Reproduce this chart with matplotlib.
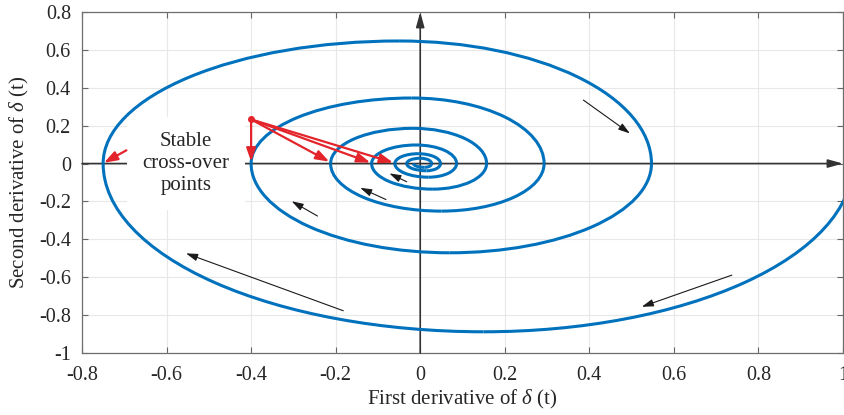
#!/usr/bin/env python

import matplotlib
matplotlib.use('Agg')
import matplotlib.pyplot as plt
from matplotlib.patches import Arc

# x-axis crossings of the trajectory, in the order they are visited
X_CROSS = [1.023, -0.75, 0.547, -0.40, 0.293, -0.212, 0.157, -0.115,
           0.086, -0.060, 0.048, -0.032, 0.027, -0.016]
# turning points (lowest / highest) between consecutive crossings
PEAK_X = [0.15, -0.05, 0.07, -0.02, 0.05, -0.017, 0.03, -0.01,
          0.02, -0.005, 0.015, 0.0, 0.01]
PEAK_Y = [-0.888, 0.647, -0.471, 0.346, -0.251, 0.186, -0.135, 0.098,
          -0.072, 0.052, -0.038, 0.028, -0.02]

# red annotation: common source point and the stable cross-over points
SRC = (-0.40, 0.233)
STABLE_X = [-0.40, -0.215, -0.118, -0.064]
STABLE_Y = [0.01, 0.01, 0.005, 0.005]
LEFT_ARROW = [(-0.695, 0.07), (-0.748, 0.004)]

# direction-of-motion arrows (tail, head)
FLOW_ARROWS = [
    ((0.386, 0.335), (0.496, 0.159)),
    ((0.737, -0.589), (0.524, -0.756)),
    ((-0.182, -0.777), (-0.554, -0.474)),
    ((-0.243, -0.277), (-0.304, -0.199)),
    ((-0.081, -0.190), (-0.142, -0.128)),
    ((-0.032, -0.096), (-0.073, -0.052)),
]

XTICKS = [-0.8, -0.6, -0.4, -0.2, 0, 0.2, 0.4, 0.6, 0.8, 1]
YTICKS = [-1, -0.8, -0.6, -0.4, -0.2, 0, 0.2, 0.4, 0.6, 0.8]

BLUE = '#0072BD'
RED = '#E3242B'
GREY = '#262626'

plt.rcParams['font.family'] = ['Liberation Serif', 'DejaVu Serif']
plt.rcParams['mathtext.fontset'] = 'custom'
plt.rcParams['mathtext.rm'] = 'Liberation Serif'
plt.rcParams['mathtext.it'] = 'Liberation Serif:italic'
plt.rcParams['axes.unicode_minus'] = False


def quarter(ax, cx, a, b, t1, t2):
    ax.add_patch(Arc((cx, 0), 2 * a, 2 * b, theta1=t1, theta2=t2,
                     color=BLUE, lw=2.2, zorder=4))


def main(filename='out.png'):
    fig = plt.figure(figsize=(8.44, 4.15), dpi=100)
    ax = fig.add_axes([82 / 844, 62 / 415, 761 / 844, 341 / 415])

    ax.set_xlim(-0.8, 1)
    ax.set_ylim(-1, 0.8)
    ax.set_xticks(XTICKS)
    ax.set_yticks(YTICKS)
    ax.set_xticklabels(['%g' % v for v in XTICKS])
    ax.set_yticklabels(['%g' % v for v in YTICKS])
    ax.tick_params(direction='in', length=4.5, width=0.8, colors='#666666',
                   labelcolor=GREY, labelsize=14.5, top=True, right=True)
    ax.tick_params(axis='x', pad=9)
    ax.tick_params(axis='y', pad=8)
    for s in ax.spines.values():
        s.set_color('#6e6e6e')
        s.set_linewidth(0.9)
    ax.grid(color='#e8e8e8', lw=0.8)
    ax.set_axisbelow(True)

    # spiral: quarter ellipses between crossings and turning points
    for i, (px, py) in enumerate(zip(PEAK_X, PEAK_Y)):
        x0, x1 = X_CROSS[i], X_CROSS[i + 1]
        b = abs(py)
        if py < 0:
            quarter(ax, px, x0 - px, b, 270, 360)
            quarter(ax, px, px - x1, b, 180, 270)
        else:
            quarter(ax, px, px - x0, b, 90, 180)
            quarter(ax, px, x1 - px, b, 0, 90)

    # coordinate axes through the origin
    axprops = dict(arrowstyle='-|>,head_length=0.9,head_width=0.25',
                   color='#333333', lw=1.2, shrinkA=0, shrinkB=0)
    ax.annotate('', xy=(1, 0), xytext=(-0.8, 0), arrowprops=axprops,
                annotation_clip=False, zorder=3)
    ax.annotate('', xy=(0, 0.8), xytext=(0, -1), arrowprops=axprops,
                annotation_clip=False, zorder=3)

    for tail, head in FLOW_ARROWS:
        ax.annotate('', xy=head, xytext=tail, zorder=5,
                    arrowprops=dict(arrowstyle='-|>,head_length=0.7,head_width=0.22',
                                    color='#1a1a1a', lw=0.8,
                                    shrinkA=0, shrinkB=0))

    redprops = dict(arrowstyle='-|>,head_length=0.8,head_width=0.28',
                    color=RED, lw=1.6, shrinkA=0, shrinkB=0)
    for sx, sy in zip(STABLE_X, STABLE_Y):
        ax.annotate('', xy=(sx, sy), xytext=SRC, arrowprops=redprops, zorder=6)
    ax.annotate('', xy=LEFT_ARROW[1], xytext=LEFT_ARROW[0],
                arrowprops=redprops, zorder=6)
    ax.plot(*SRC, 'o', color=RED, ms=4, zorder=7)

    ax.text(-0.554, 0.0, 'Stable\ncross-over\npoints', ha='center',
            va='center', fontsize=15, color=GREY, zorder=5,
            bbox=dict(boxstyle='square,pad=0.75', fc='white', ec='none'))

    ax.set_xlabel(r'First derivative of $\delta$ (t)', fontsize=15,
                  color=GREY, va='top')
    ax.set_ylabel(r'Second derivative of $\delta$ (t)', fontsize=15,
                  color=GREY)
    ax.xaxis.set_label_coords(0.5, -0.103)
    ax.yaxis.set_label_coords(-0.067, 0.5)

    fig.savefig(filename, dpi=100)


if __name__ == '__main__':
    main()
